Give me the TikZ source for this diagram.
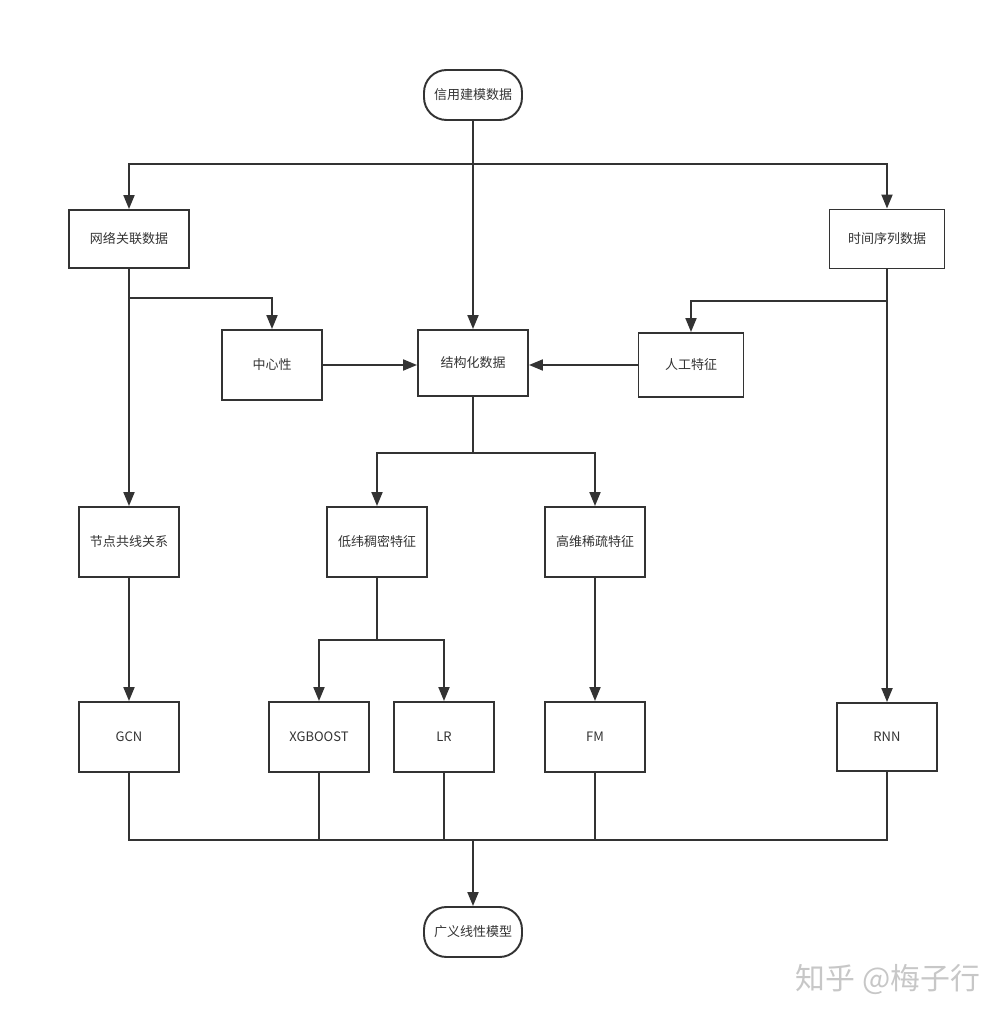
\documentclass[tikz,border=0pt]{standalone}
\usepackage{fontspec}
\setmainfont{Noto Sans CJK SC}
\usepackage{tikz}
\usetikzlibrary{arrows.meta,positioning}
\usepackage{xcolor}
\definecolor{ink}{HTML}{333333}
\tikzset{
  box/.style={draw=ink,line width=1.1pt,minimum width=2cm,minimum height=1.4cm,inner sep=0pt,
    font=\fontsize{7.4}{9}\selectfont,text=ink},
  term/.style={box,minimum width=1.96cm,minimum height=1cm,rounded corners=0.45cm},
  link/.style={draw=ink,line width=1.1pt},
  arr/.style={link,-{Triangle[length=0.28cm,width=0.22cm]}}
}
\begin{document}
\begin{tikzpicture}[x=0.02cm,y=-0.02cm]
\useasboundingbox (0,0) rectangle (1006,1020);
\node[term] (xin) at (473,95) {信用建模数据};
\node[box,minimum width=2.4cm,minimum height=1.16cm] (wl) at (129,239) {网络关联数据};
\node[box,minimum width=2.3cm,minimum height=1.18cm] (sj) at (887,239) {时间序列数据};
\node[box] (zx) at (272,365) {中心性};
\node[box,minimum width=2.2cm,minimum height=1.32cm] (jg) at (473,363) {结构化数据};
\node[box,minimum width=2.1cm,minimum height=1.28cm] (rg) at (691,365) {人工特征};
\node[box] (jd) at (129,542) {节点共线关系};
\node[box] (dw) at (377,542) {低纬稠密特征};
\node[box] (gw) at (595,542) {高维稀疏特征};
\node[box] (gcn) at (129,737) {GCN};
\node[box] (xgb) at (319,737) {XGBOOST};
\node[box] (lr) at (444,737) {LR};
\node[box] (fm) at (595,737) {FM};
\node[box,minimum height=1.36cm] (rnn) at (887,737) {RNN};
\node[term] (gy) at (473,932) {广义线性模型};
\coordinate (b1) at (473,164);
\coordinate (b2) at (129,298);
\coordinate (b3) at (887,301);
\coordinate (b4) at (473,453);
\coordinate (b5) at (377,640);
\coordinate (b6) at (473,840);
\draw [arr] (xin) -- (jg);
\draw [arr] (b1) -| (wl);
\draw [arr] (b1) -| (sj);
\draw [arr] (wl) -- (jd);
\draw [arr] (b2) -| (zx);
\draw [arr] (sj) -- (rnn);
\draw [arr] (b3) -| (rg);
\draw [arr] (zx.east) -- (zx.east -| jg.west);
\draw [arr] (rg.west) -- (rg.west -| jg.east);
\draw [link] (jg) -- (b4);
\draw [arr] (b4) -| (dw);
\draw [arr] (b4) -| (gw);
\draw [arr] (jd) -- (gcn);
\draw [link] (dw) -- (b5);
\draw [arr] (b5) -| (xgb);
\draw [arr] (b5) -| (lr);
\draw [arr] (gw) -- (fm);
\draw [link] (gcn) |- (b6);
\draw [link] (rnn) |- (b6);
\draw [link] (xgb.south) -- (xgb.south |- b6);
\draw [link] (lr.south) -- (lr.south |- b6);
\draw [link] (fm.south) -- (fm.south |- b6);
\draw [arr] (b6) -- (gy);
\node[text=black!22,font=\fontsize{17}{19}\selectfont] (wm) at (888,980) {知乎 @梅子行};
\end{tikzpicture}
\end{document}
